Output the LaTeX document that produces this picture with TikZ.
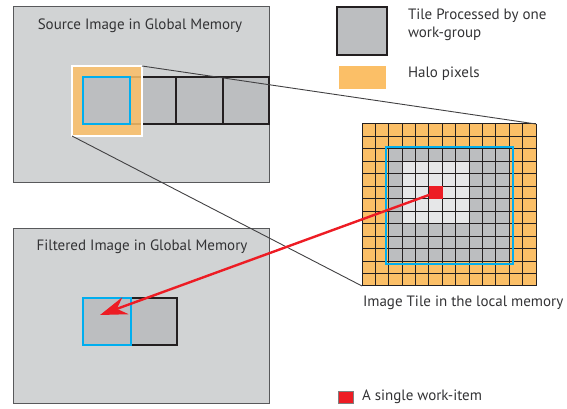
\documentclass[tikz,border=0pt]{standalone}
\usepackage{fontspec}
\setmainfont{PT Sans}
\usetikzlibrary{arrows.meta}

\definecolor{pagegray}{HTML}{D1D3D4}
\definecolor{tilegray}{HTML}{BCBEC0}
\definecolor{lightcell}{HTML}{E6E7E8}
\definecolor{halo}{HTML}{FBBF67}
\definecolor{cyanedge}{HTML}{00AEEF}
\definecolor{itemred}{HTML}{ED1C24}
\definecolor{inkdark}{HTML}{231F20}
\definecolor{framegray}{HTML}{58595B}
\definecolor{textgray}{HTML}{333335}
\definecolor{zoomline}{HTML}{414042}

\begin{document}
\begin{tikzpicture}[x=1pt,y=-1pt,
  every node/.style={inner sep=0pt,outer sep=0pt},
  membox/.style={fill=pagegray,draw=framegray,line width=1pt},
  tile/.style={fill=tilegray,draw=inkdark,line width=1.8pt},
  ctile/.style={fill=tilegray,draw=cyanedge,line width=1.8pt},
  halobox/.style={fill=halo,fill opacity=0.85,draw=white,line width=1.2pt},
  txt/.style={font=\fontsize{15}{17}\selectfont,text=textgray},
  gridline/.style={draw=inkdark,line width=1pt},
  zoomedge/.style={draw=zoomline,line width=0.9pt},
  redarrow/.style={draw=itemred,line width=2.4pt,-{Stealth[length=27pt,width=18pt,inset=9pt]}}
]
\useasboundingbox (0,0) rectangle (567,409);

% ---- source image ----
\node[membox,minimum width=256pt,minimum height=175pt] (src) at (141,94.5) {};
\node[txt] (srctitle) at (140,26) {Source Image in Global Memory};
\node[tile,minimum width=46pt,minimum height=47pt] (s2) at (153,100.5) {};
\node[tile,minimum width=47pt,minimum height=47pt] (s3) at (199.5,100.5) {};
\node[tile,minimum width=46pt,minimum height=47pt] (s4) at (246,100.5) {};
\node[halobox,minimum width=70pt,minimum height=70pt] (halo) at (107,101) {};
\node[ctile,minimum width=47pt,minimum height=47pt] (s1) at (106.5,100.5) {};

% ---- filtered image ----
\node[membox,minimum width=256pt,minimum height=175pt] (dstbox) at (141,315.5) {};
\node[txt] (dsttitle) at (142,247) {Filtered Image in Global Memory};
\node[tile,minimum width=46pt,minimum height=47pt] (f2) at (154,321.5) {};
\node[ctile,minimum width=48pt,minimum height=47pt] (f1) at (107,321.5) {};
\coordinate (dst) at (100,315);

% ---- legend ----
\node[tile,line width=2.5pt,minimum width=50pt,minimum height=48pt] (legtile) at (362,31) {};
\node[txt,anchor=west] (legtiletxt1) at (408,16) {Tile Processed by one};
\node[txt,anchor=west] (legtiletxt2) at (408,34) {work-group};
\node[fill=halo,minimum width=47pt,minimum height=23pt] (leghalo) at (362.5,77.5) {};
\node[txt,anchor=west] (leghalotxt) at (408,74) {Halo pixels};
\node[fill=itemred,draw=gray,line width=1pt,minimum width=15pt,minimum height=12pt] (legitem) at (345.5,397) {};
\node[txt,anchor=west] (legitemtxt) at (362,397) {A single work-item};

% ---- local-memory tile: 13 x 13 cells ----
\def\cw{13.385}
\def\ch{12.46}
\node[minimum width=174pt,minimum height=162pt] (grid) at (449,205) {};
\fill[halo] (362,124) rectangle (536,286);
\fill[tilegray] (362+2*\cw,124+2*\ch) rectangle (362+11*\cw,124+11*\ch);
\fill[lightcell] (362+3*\cw,124+3*\ch) rectangle (362+8*\cw,124+8*\ch);
\foreach \k in {0,...,13}{
  \draw[gridline] (362+\k*\cw,124) -- (362+\k*\cw,286);
  \draw[gridline] (362,124+\k*\ch) -- (536,124+\k*\ch);
}
\draw[draw=cyanedge,line width=2.2pt] (386,147) rectangle (513,264);
\node[fill=itemred,minimum width=14pt,minimum height=13pt] (item) at (362+5.5*\cw,124+5.5*\ch) {};
\node[txt,anchor=west] (gridtxt) at (363,303) {Image Tile in the local memory};

% ---- zoom-out edges and work-item arrow ----
\draw[zoomedge] (halo.north east) -- (grid.north east);
\draw[zoomedge] (halo.south west) -- (grid.south west);
\draw[redarrow] (item.center) -- (dst);
\end{tikzpicture}
\end{document}
